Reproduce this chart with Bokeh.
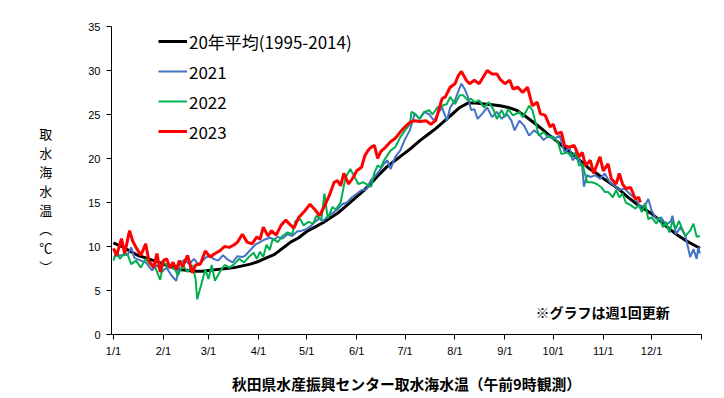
from bokeh.plotting import figure
from bokeh.models import Range1d, FixedTicker, Label, Legend
from bokeh.embed import file_html
from bokeh.resources import INLINE

# ---- data (day of year 0 = 1/1, water temperature in deg C) ----
avg_day = [0, 5, 10, 15, 20, 25, 30, 35, 40, 45, 50, 55, 60, 65, 70, 75, 80, 85, 90, 95,
           100, 105, 110, 115, 120, 125, 130, 135, 140, 145, 150, 155, 160, 165, 170, 175,
           180, 185, 190, 195, 200, 205, 210, 215, 220, 225, 230, 235, 240, 245, 250, 255,
           260, 265, 270, 275, 280, 285, 290, 295, 300, 305, 310, 315, 320, 325, 330, 335,
           340, 345, 350, 355, 360, 364]
avg_temp = [10.4, 10.0, 9.5, 9.0, 8.7, 8.4, 8.1, 7.7, 7.4, 7.3, 7.2, 7.2, 7.3, 7.4, 7.5, 7.6,
            7.8, 8.0, 8.3, 8.7, 9.1, 9.8, 10.5, 11.0, 11.7, 12.2, 12.7, 13.3, 13.9, 14.7, 15.5,
            16.3, 17.2, 18.2, 19.1, 19.8, 20.5, 21.2, 22.0, 22.7, 23.4, 24.2, 25.0, 25.8, 26.3,
            26.3, 26.2, 26.1, 26.0, 25.8, 25.5, 24.9, 24.2, 23.5, 22.7, 22.0, 21.2, 20.5, 19.7,
            18.9, 18.3, 17.6, 17.0, 16.3, 15.5, 14.8, 14.2, 13.6, 12.8, 12.0, 11.3, 10.7, 10.2, 9.8]

y2021_day = [0, 3, 6, 9, 11, 13, 17, 20, 24, 27, 30, 33, 36, 39, 41, 44, 47, 50, 53, 57, 60, 62,
             65, 68, 71, 74, 77, 80, 82, 85, 88, 91, 94, 97, 100, 102, 105, 108, 111, 114, 117,
             120, 123, 125, 128, 130, 133, 136, 139, 142, 145, 148, 151, 154, 157, 160, 162, 165,
             168, 170, 172, 175, 178, 181, 184, 187, 190, 193, 196, 199, 202, 204, 207, 209, 212,
             214, 216, 218, 220, 222, 224, 226, 229, 232, 235, 238, 241, 244, 247, 249, 252, 255,
             258, 261, 264, 267, 270, 273, 277, 280, 283, 285, 288, 291, 292, 294, 296, 299, 302,
             305, 308, 311, 314, 317, 321, 324, 327, 330, 332, 334, 337, 340, 343, 346, 347, 349,
             352, 355, 358, 360, 362, 363, 364]
y2021_temp = [8.8, 9.0, 9.0, 9.1, 9.9, 8.7, 8.4, 8.2, 7.3, 7.9, 7.1, 7.6, 6.7, 6.1, 8.0, 8.5, 8.0,
              8.6, 7.9, 8.7, 9.0, 8.6, 8.4, 9.0, 8.5, 8.2, 8.9, 8.8, 9.0, 9.6, 10.2, 10.5, 10.8,
              11.0, 10.8, 11.1, 10.9, 11.4, 11.2, 11.7, 11.8, 12.0, 12.4, 12.8, 13.2, 12.9, 13.4,
              13.8, 14.2, 14.8, 15.0, 15.6, 16.0, 16.4, 16.5, 17.6, 17.9, 18.6, 19.4, 19.8, 18.8,
              20.2, 20.9, 22.2, 23.2, 25.1, 24.5, 25.3, 25.0, 24.3, 25.3, 25.8, 24.3, 25.8, 26.6,
              27.6, 28.5, 27.9, 27.0, 25.5, 25.6, 24.5, 25.1, 25.8, 24.7, 25.3, 24.5, 25.1, 24.3,
              23.2, 24.3, 23.7, 22.6, 23.2, 22.8, 22.1, 22.6, 22.2, 22.6, 20.7, 21.3, 19.8, 20.5,
              19.0, 16.8, 18.1, 17.9, 18.1, 17.7, 18.3, 17.3, 16.9, 16.4, 16.6, 15.9, 15.4, 14.5,
              14.7, 15.4, 14.1, 13.1, 13.3, 12.4, 12.9, 13.5, 11.4, 12.2, 11.2, 8.8, 9.7, 8.6,
              9.9, 9.2]

y2022_day = [0, 2, 4, 7, 9, 11, 14, 17, 20, 23, 26, 29, 31, 35, 38, 40, 43, 46, 49, 51, 52, 55,
             57, 59, 61, 63, 66, 69, 72, 75, 78, 81, 84, 87, 89, 91, 93, 95, 97, 99, 102, 105, 108,
             111, 113, 116, 118, 121, 124, 126, 129, 131, 133, 136, 138, 141, 144, 147, 150, 152,
             155, 158, 160, 162, 164, 166, 168, 172, 175, 178, 181, 184, 185, 187, 190, 193, 196,
             198, 201, 204, 207, 209, 212, 215, 217, 220, 222, 224, 227, 230, 233, 236, 238, 241,
             243, 245, 248, 252, 254, 256, 258, 260, 262, 264, 267, 270, 273, 276, 278, 282, 284,
             287, 289, 291, 294, 297, 300, 303, 305, 307, 310, 312, 314, 316, 318, 321, 324, 326,
             328, 330, 332, 334, 337, 339, 341, 343, 345, 347, 349, 351, 353, 355, 358, 360, 362,
             364]
y2022_temp = [8.4, 9.5, 8.6, 9.3, 9.0, 8.0, 8.4, 7.6, 8.6, 7.9, 7.6, 6.2, 8.2, 7.6, 7.5, 6.7, 7.9,
              7.1, 7.9, 6.3, 4.0, 6.0, 7.4, 6.3, 7.9, 6.1, 7.1, 7.9, 7.6, 8.0, 8.6, 8.2, 8.8, 9.3,
              8.6, 9.4, 8.8, 10.2, 9.6, 10.9, 10.5, 11.2, 11.6, 11.4, 12.9, 13.1, 12.4, 12.8, 12.6,
              13.5, 13.0, 16.0, 13.2, 14.5, 14.2, 15.0, 17.8, 18.8, 17.8, 17.1, 17.3, 17.0, 16.8,
              18.4, 19.2, 19.0, 19.8, 20.9, 21.3, 22.4, 23.2, 23.9, 25.3, 25.1, 24.5, 25.3, 25.5,
              25.0, 25.8, 26.0, 26.2, 27.0, 26.2, 27.2, 27.2, 26.6, 26.8, 26.4, 26.6, 25.8, 26.4,
              25.5, 24.5, 25.5, 24.7, 25.6, 24.9, 25.3, 24.7, 25.3, 26.0, 25.5, 24.1, 22.6, 23.0,
              22.4, 22.5, 21.8, 20.5, 20.7, 20.2, 20.7, 19.2, 19.4, 17.3, 17.3, 17.1, 16.7, 16.2,
              16.2, 15.6, 16.4, 15.6, 16.0, 15.0, 14.7, 14.3, 14.7, 13.9, 14.9, 13.1, 13.3, 12.6,
              13.3, 12.2, 12.8, 11.6, 12.9, 12.0, 12.9, 12.0, 11.2, 11.8, 12.6, 11.1, 11.2]

y2023_day = [0, 2, 5, 7, 10, 12, 14, 17, 20, 22, 25, 27, 29, 31, 33, 35, 37, 39, 41, 43, 46, 49,
             51, 54, 57, 60, 63, 66, 69, 72, 75, 77, 80, 83, 86, 89, 91, 93, 96, 98, 101, 104, 107,
             109, 112, 115, 119, 122, 125, 128, 131, 134, 137, 139, 141, 143, 146, 149, 151, 154,
             156, 158, 160, 162, 164, 166, 169, 172, 175, 178, 181, 184, 187, 190, 194, 197, 200,
             202, 204, 206, 209, 212, 214, 216, 219, 221, 224, 227, 230, 232, 235, 238, 240, 243,
             246, 248, 251, 254, 257, 260, 263, 265, 268, 271, 273, 275, 278, 280, 283, 286, 289,
             291, 293, 296, 298, 302, 304, 307, 309, 312, 314, 316, 318, 321, 324, 326, 327]
y2023_temp = [9.8, 9.0, 10.9, 9.2, 11.8, 10.6, 9.9, 9.0, 10.3, 8.4, 7.6, 9.2, 7.1, 8.4, 8.6, 7.6,
              8.2, 7.4, 8.4, 7.7, 9.0, 7.0, 7.9, 8.0, 9.5, 8.8, 9.2, 9.5, 10.0, 9.9, 10.2, 10.5,
              11.4, 10.5, 10.3, 11.1, 10.8, 12.2, 11.2, 11.8, 11.3, 12.4, 13.0, 12.6, 12.1, 13.3,
              14.1, 14.8, 14.2, 13.5, 14.6, 15.8, 17.3, 17.5, 16.9, 18.3, 17.1, 17.9, 18.6, 19.0,
              20.3, 20.9, 21.3, 21.5, 20.0, 20.8, 21.3, 21.9, 22.3, 23.0, 23.6, 24.1, 24.3, 24.2,
              24.3, 23.9, 24.3, 25.6, 26.8, 27.0, 28.1, 28.5, 29.4, 29.9, 28.9, 28.5, 28.9, 28.5,
              29.4, 30.0, 29.6, 29.6, 29.0, 28.5, 28.9, 27.9, 28.1, 27.5, 28.1, 26.0, 26.4, 25.1,
              24.9, 23.6, 23.9, 22.8, 23.0, 21.5, 21.3, 21.5, 20.2, 20.7, 19.2, 19.8, 18.3, 20.2,
              18.6, 19.4, 17.7, 17.1, 18.3, 17.1, 16.6, 16.7, 15.4, 15.6, 15.0]

month_ticks = [0, 31, 59, 90, 120, 151, 181, 212, 243, 273, 304, 334, 365]
month_labels = ["1/1", "2/1", "3/1", "4/1", "5/1", "6/1", "7/1", "8/1", "9/1", "10/1", "11/1", "12/1", ""]
y_ticks = [0, 5, 10, 15, 20, 25, 30, 35]

series_names = ["20年平均(1995-2014)", "2021", "2022", "2023"]
y_label_chars = ["取", "水", "海", "水", "温", "︵", "℃", "︶"]
x_title = "秋田県水産振興センター取水海水温（午前9時観測）"
note_text = "※グラフは週1回更新"

CJK = "Noto Sans CJK JP"
LAT = "Liberation Sans"

p = figure(width=716, height=398, output_backend="svg", toolbar_location=None,
           x_range=Range1d(-1.2, 365), y_range=Range1d(0, 35),
           min_border_left=111, min_border_right=15, min_border_top=26, min_border_bottom=64)
p.outline_line_color = None
p.grid.visible = False
p.background_fill_color = "white"
p.border_fill_color = "white"

for ax in (p.xaxis[0], p.yaxis[0]):
    ax.axis_line_color = "black"
    ax.axis_line_width = 1
    ax.major_tick_line_color = "black"
    ax.major_tick_in = 0
    ax.major_tick_out = 5
    ax.minor_tick_line_color = None
    ax.major_label_text_font = LAT
    ax.major_label_text_font_size = "11px"
    ax.major_label_text_color = "black"

p.xaxis[0].ticker = FixedTicker(ticks=month_ticks)
p.xaxis[0].major_label_overrides = {t: l for t, l in zip(month_ticks, month_labels)}
p.xaxis[0].major_label_standoff = 5
p.xaxis[0].axis_label = x_title
p.xaxis[0].axis_label_text_font = CJK
p.xaxis[0].axis_label_text_font_size = "14.8px"
p.xaxis[0].axis_label_text_font_style = "bold"
p.xaxis[0].axis_label_text_color = "black"
p.xaxis[0].axis_label_standoff = 13

p.yaxis[0].ticker = FixedTicker(ticks=y_ticks)
p.yaxis[0].major_label_standoff = 6
# vertical (stacked) y-axis title; leading blank lines push the block down
p.yaxis[0].axis_label = "\n".join([" ", " "] + y_label_chars)
p.yaxis[0].axis_label_orientation = "horizontal"
p.yaxis[0].axis_label_text_font = CJK
p.yaxis[0].axis_label_text_font_size = "13px"
p.yaxis[0].axis_label_text_font_style = "normal"
p.yaxis[0].axis_label_text_color = "black"
p.yaxis[0].axis_label_text_line_height = 1.0
p.yaxis[0].axis_label_standoff = 33

r0 = p.line(avg_day, avg_temp, line_color="black", line_width=3)
r1 = p.line(y2021_day, y2021_temp, line_color="#4472C4", line_width=2)
r2 = p.line(y2022_day, y2022_temp, line_color="#00B050", line_width=2)
r3 = p.line(y2023_day, y2023_temp, line_color="#FF0000", line_width=3)

legend = Legend(items=[(series_names[0], [r0]), (series_names[1], [r1]),
                       (series_names[2], [r2]), (series_names[3], [r3])],
                location=(47, 188), padding=0, margin=0, spacing=0,
                glyph_width=29, glyph_height=30, label_height=30, label_width=185,
                label_standoff=2,
                label_text_font=CJK, label_text_font_size="17px", label_text_color="black",
                background_fill_alpha=0, border_line_color=None)
p.add_layout(legend, "center")

p.add_layout(Label(x=424, y=23, x_units="screen", y_units="screen", text=note_text,
                   text_font=CJK, text_font_size="14px", text_font_style="bold",
                   text_color="black", text_align="left", text_baseline="middle"))

open("out.html", "w").write(file_html(p, INLINE))
